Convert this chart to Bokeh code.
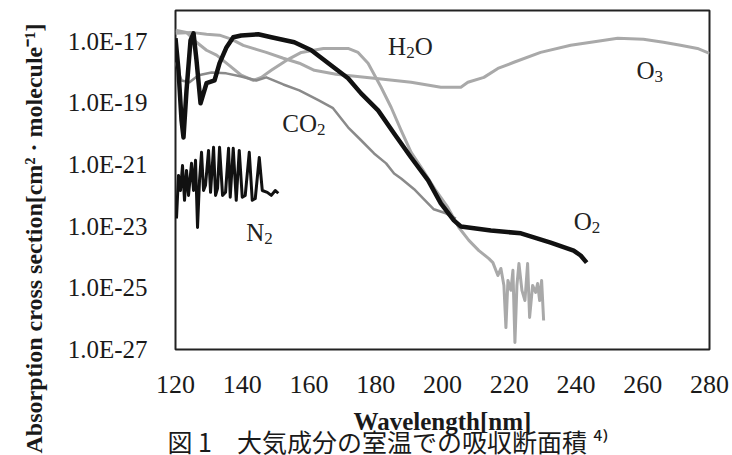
import numpy as np
from bokeh.plotting import figure
from bokeh.models import FixedTicker, CustomJSTickFormatter, Label, Range1d, Title
from bokeh.embed import file_html
from bokeh.resources import INLINE

# ---------------- data (wavelength in nm, log10 of cross section in cm^2/molecule) ----------------
x_ticks = [120, 140, 160, 180, 200, 220, 240, 260, 280]
y_tick_exponents = [-27, -25, -23, -21, -19, -17]

o2_nm = [120.0, 120.9, 121.8, 122.4, 123.3, 124.5, 125.4, 126.3, 127.5, 129.3, 131.7, 133.2,
         135.3, 137.3, 139.7, 144.8, 148.7, 155.6, 160.7, 165.8, 171.7, 175.6, 180.7, 185.5,
         190.6, 195.7, 199.5, 203.4, 205.5, 214.5, 223.5, 232.4, 239.3, 241.4, 243.2]
o2_log = [-16.90, -17.94, -19.56, -20.12, -18.59, -16.97, -16.74, -17.62, -19.01, -18.36, -18.27, -17.71,
          -17.19, -16.87, -16.81, -16.77, -16.87, -17.03, -17.29, -17.71, -18.20, -18.69, -19.24, -19.99,
          -20.77, -21.51, -22.26, -22.81, -23.01, -23.14, -23.23, -23.53, -23.79, -23.95, -24.18]

n2_nm = [120.3, 120.9, 121.5, 122.1, 122.7, 123.3, 123.9, 124.8, 125.4, 126.0, 126.6, 127.2,
         127.8, 128.4, 129.0, 129.9, 130.5, 131.4, 132.0, 132.6, 133.2, 134.1, 135.0, 135.9,
         136.4, 137.3, 138.2, 139.1, 140.0, 140.9, 142.1, 143.0, 143.9, 145.1, 146.0, 147.5,
         148.7, 149.9, 150.8]
n2_log = [-22.75, -21.35, -21.84, -21.03, -22.16, -21.19, -22.00, -20.96, -21.84, -20.86, -23.04, -21.51,
          -20.60, -21.84, -21.67, -20.54, -21.90, -20.44, -22.00, -21.77, -20.44, -22.00, -21.90, -20.47,
          -22.06, -20.47, -22.16, -20.54, -22.06, -22.00, -20.60, -22.16, -22.10, -20.77, -21.84, -21.90,
          -22.00, -21.84, -21.93]

h2o_nm = [120.0, 123.3, 126.3, 129.3, 132.3, 136.1, 139.7, 143.3, 145.7, 148.7, 153.2, 157.7,
          164.3, 171.7, 174.7, 177.7, 181.6, 184.6, 187.6, 190.6, 194.2, 198.0, 201.6, 204.9,
          207.9, 210.9, 213.9, 215.1, 216.6, 217.5, 218.4, 219.0, 219.6, 220.5, 221.1, 221.7,
          222.3, 222.9, 223.8, 224.7, 225.5, 226.1, 227.0, 227.9, 228.5, 229.1, 229.7, 230.3]
h2o_log = [-16.64, -16.71, -17.03, -17.29, -17.45, -17.78, -18.10, -18.27, -18.17, -17.94, -17.62, -17.36,
           -17.23, -17.23, -17.36, -17.71, -18.49, -19.14, -19.89, -20.60, -21.19, -21.84, -22.39, -23.04,
           -23.46, -23.79, -24.05, -24.18, -24.60, -24.37, -24.92, -26.29, -24.76, -25.08, -24.43, -26.77,
           -24.92, -24.21, -25.08, -25.41, -24.21, -25.96, -24.92, -25.15, -24.86, -25.41, -24.76, -26.06]

co2_nm = [120.0, 121.8, 124.2, 126.9, 130.8, 135.2, 139.7, 144.2, 147.2, 152.3, 157.1, 162.8,
          167.2, 171.7, 175.6, 179.5, 183.1, 185.5, 187.6, 191.5, 193.6, 197.4, 201.0, 204.0]
co2_log = [-17.68, -18.27, -18.33, -18.10, -18.01, -18.04, -18.14, -18.27, -18.17, -18.40, -18.59, -18.91,
           -19.17, -19.79, -20.21, -20.64, -20.96, -21.29, -21.45, -21.80, -22.03, -22.45, -22.58, -22.75]

o3_nm = [120.0, 124.8, 129.3, 133.2, 136.7, 140.3, 144.2, 147.2, 152.3, 157.1, 161.6, 168.1,
         179.5, 190.6, 199.5, 205.5, 207.6, 212.4, 216.6, 221.4, 229.4, 238.4, 246.5, 252.5,
         260.2, 266.2, 271.3, 276.4, 280.0]
o3_log = [-16.74, -16.71, -16.77, -16.80, -16.93, -17.13, -17.26, -17.36, -17.55, -17.71, -17.94, -18.07,
          -18.20, -18.33, -18.49, -18.49, -18.33, -18.17, -17.88, -17.68, -17.36, -17.13, -17.00, -16.90,
          -16.93, -17.03, -17.13, -17.23, -17.39]

# ---------------- figure ----------------
SERIF = "Liberation Serif"
INK = "#1a1a1a"
p = figure(width=732, height=455, output_backend="svg", toolbar_location=None,
           y_axis_type="log", x_range=Range1d(120, 280), y_range=Range1d(1e-27, 1e-16),
           min_border_left=174, min_border_right=23, min_border_top=10, min_border_bottom=106)
p.xgrid.visible = False
p.ygrid.visible = False
p.outline_line_color = "#222222"
p.outline_line_width = 2
p.background_fill_color = "white"
p.border_fill_color = "white"

p.xaxis.ticker = FixedTicker(ticks=x_ticks)
p.yaxis.ticker = FixedTicker(ticks=[10.0 ** e for e in y_tick_exponents])
p.yaxis.formatter = CustomJSTickFormatter(code="return '1.0E' + Math.round(Math.log10(tick));")
for ax in (p.xaxis, p.yaxis):
    ax.axis_line_color = None
    ax.major_tick_line_color = None
    ax.minor_tick_line_color = None
    ax.major_label_text_font = SERIF
    ax.major_label_text_color = INK
p.xaxis.major_label_text_font_size = "26px"
p.yaxis.major_label_text_font_size = "25px"
p.xaxis.major_label_standoff = 20
p.yaxis.major_label_standoff = 22

p.xaxis.axis_label = "Wavelength[nm]"
p.xaxis.axis_label_text_font = SERIF
p.xaxis.axis_label_text_font_size = "25px"
p.xaxis.axis_label_text_font_style = "bold"
p.xaxis.axis_label_text_color = INK
p.xaxis.axis_label_standoff = 12


def sig(logs):
    return 10.0 ** np.array(logs)


p.line(o3_nm, sig(o3_log), line_color="#a9a9a9", line_width=3, line_join="round")
p.line(h2o_nm, sig(h2o_log), line_color="#a9a9a9", line_width=3, line_join="round")
p.line(co2_nm, sig(co2_log), line_color="#8a8a8a", line_width=2.5, line_join="round")
p.line(n2_nm, sig(n2_log), line_color="#111111", line_width=3, line_join="round")
p.line(o2_nm, sig(o2_log), line_color="#111111", line_width=4.5, line_join="round")

# ---------------- formula labels ----------------
W = {"H": 0.722, "O": 0.722, "C": 0.667, "N": 0.722, "2": 0.5, "3": 0.5}
MAIN, SUB = 25, 17


def formula(parts, x, y):
    off = 0.0
    for txt, sub in parts:
        fs = SUB if sub else MAIN
        p.add_layout(Label(x=x, y=y, x_offset=off, y_offset=3 if sub else 9, text=txt,
                           text_font=SERIF, text_font_size=f"{fs}px", text_color="#222222",
                           text_baseline="alphabetic", text_align="left"))
        off += sum(W[c] for c in txt) * fs


formula([("H", False), ("2", True), ("O", False)], 183.7, 3.5e-18)
formula([("CO", False), ("2", True)], 152.0, 1.1e-20)
formula([("N", False), ("2", True)], 141.2, 3.2e-24)
formula([("O", False), ("2", True)], 239.3, 7.2e-24)
formula([("O", False), ("3", True)], 258.1, 5.9e-19)

# ---------------- y title and caption ----------------
ytitle = Title(text="Absorption cross section[cm\u00b2 \u00b7 molecule\u207b\u00b9]",
               align="left", offset=-104, standoff=36,
               text_font=SERIF, text_font_size="24px", text_font_style="bold", text_color=INK)
p.add_layout(ytitle, "left")

caption = Title(text="図 1\u3000大気成分の室温での吸収断面積 \u2074\u207e",
                align="left", offset=-8, standoff=-34,
                text_font="Noto Sans CJK JP", text_font_size="25px", text_font_style="normal",
                text_color=INK)
p.add_layout(caption, "below")

open("out.html", "w").write(file_html(p, INLINE))
